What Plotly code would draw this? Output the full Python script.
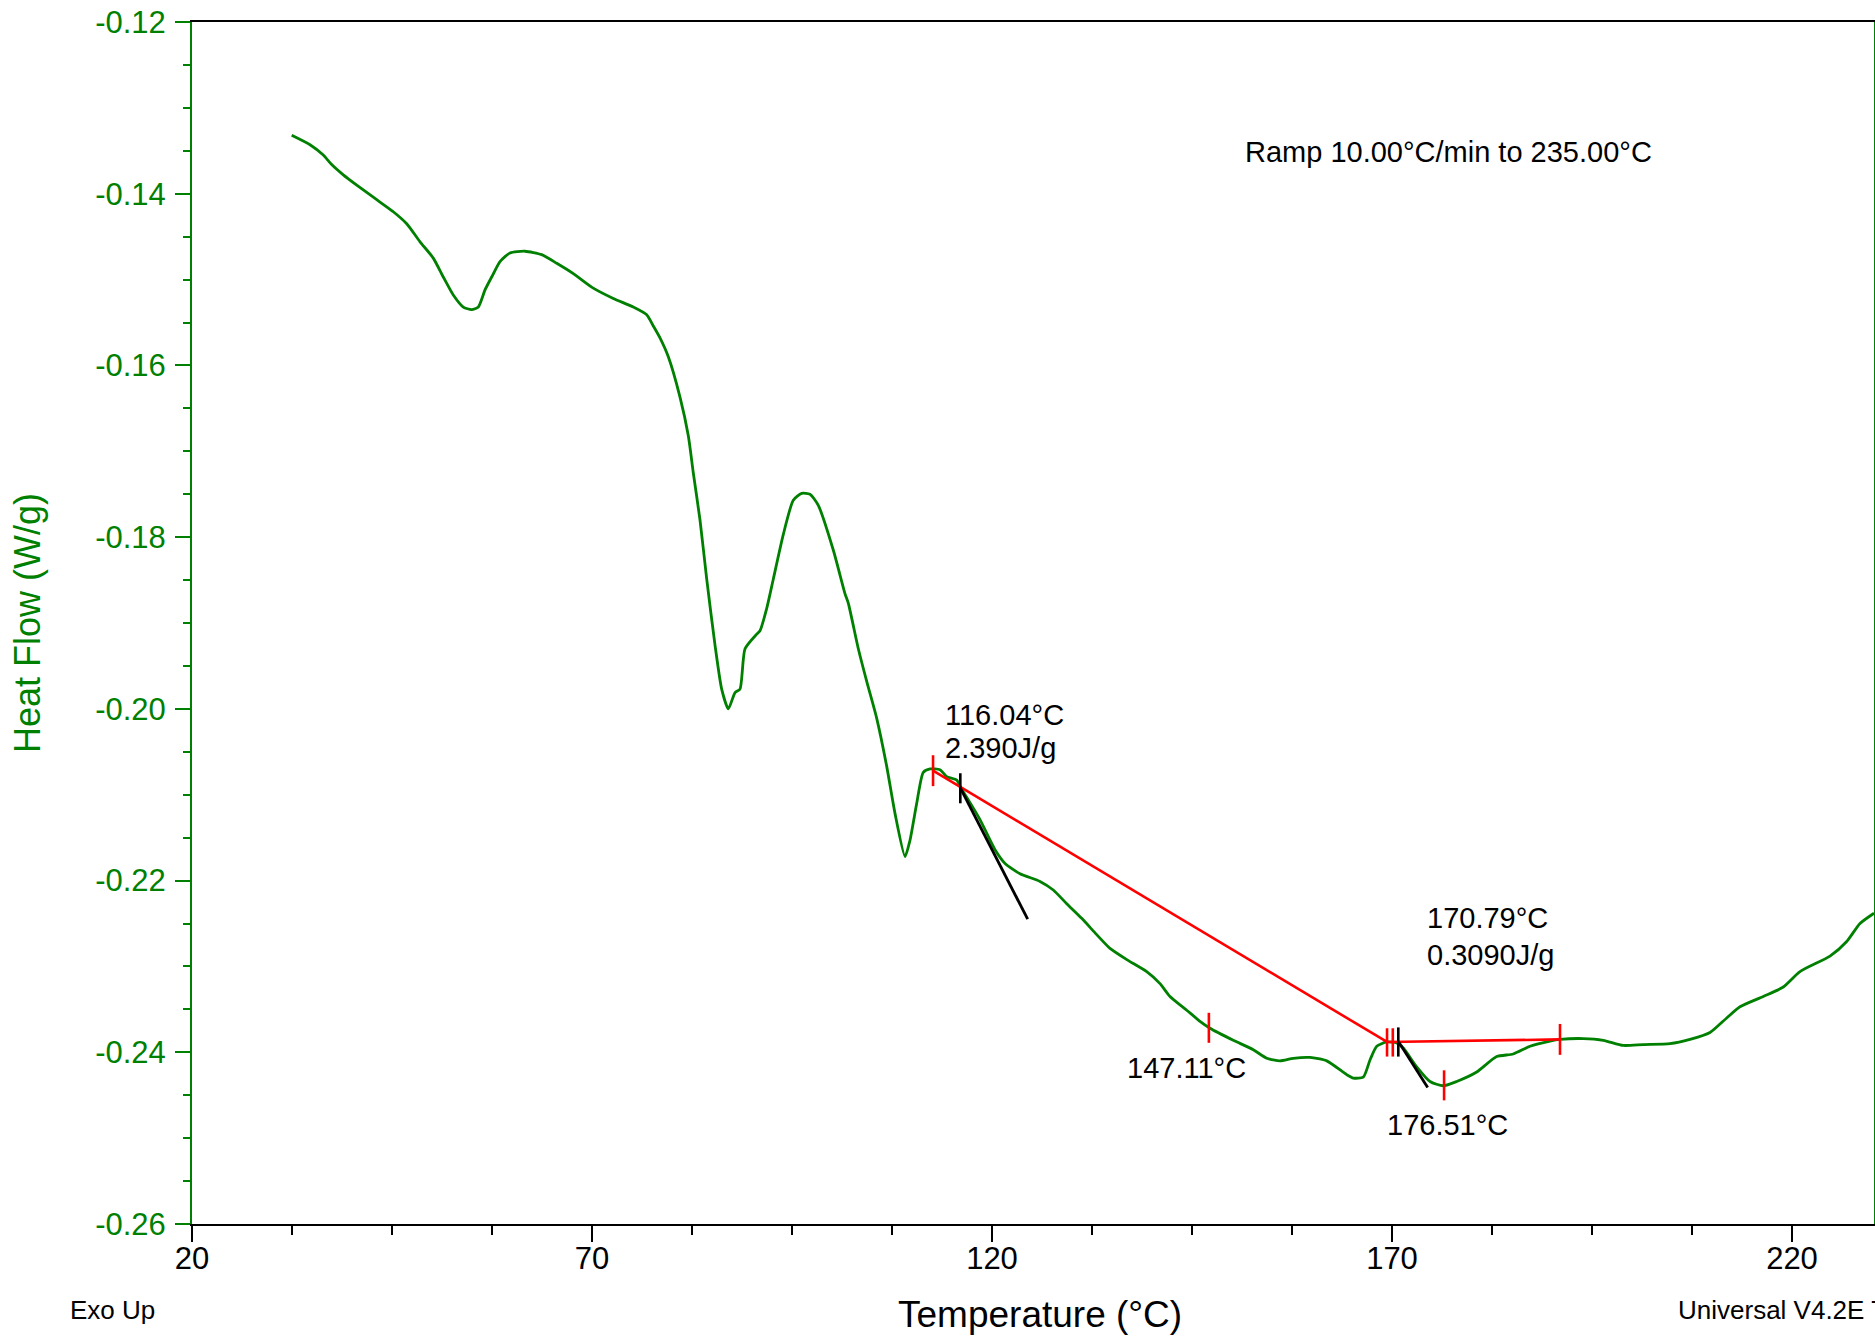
import plotly.graph_objects as go

# ---- DSC curve (Temperature °C, Heat Flow W/g) ----
temp = [32.46, 34.75, 36.41, 37.46, 38.91, 40.59, 43.09, 45.16, 46.84, 48.5,
        50.16, 51.41, 52.66, 53.91, 54.96, 55.79, 56.63, 57.46, 58.5, 59.75,
        61.63, 63.71, 65.59, 67.66, 70.16, 72.66, 75.16, 76.84, 77.66, 78.5,
        79.54, 81.0, 82.04, 82.66, 83.5, 84.34, 85.38, 86.21, 87.04, 87.88,
        88.5, 89.13, 90.59, 91.0, 91.84, 92.66, 93.91, 95.16, 96.21, 97.25,
        98.29, 100.16, 101.63, 102.04, 103.29, 104.34, 105.59, 106.84, 107.88, 109.13,
        109.75, 110.59, 111.41, 112.25, 113.5, 114.34, 115.59, 116.21, 117.04, 118.5,
        120.38, 121.63, 123.5, 126.0, 127.66, 129.34, 131.21, 133.09, 134.75, 136.84,
        139.34, 141.0, 142.25, 144.34, 146.0, 147.25, 150.16, 152.66, 154.34, 156.0,
        157.66, 159.75, 161.84, 164.34, 165.16, 166.41, 167.25, 168.09, 169.34, 170.59,
        171.41, 173.09, 174.75, 176.41, 178.09, 180.59, 183.09, 185.16, 187.25, 189.75,
        191.0, 193.91, 196.41, 198.91, 201.41, 204.75, 207.25, 209.75, 211.84, 213.5,
        216.41, 218.91, 221.0, 224.75, 226.84, 228.5, 230.25]
heat_flow = [-0.1332, -0.1343, -0.1355, -0.1366, -0.1378, -0.1390, -0.1407, -0.1421, -0.1435, -0.1456,
             -0.1475, -0.1497, -0.1518, -0.1532, -0.1535, -0.1532, -0.1512, -0.1497, -0.1479, -0.1469,
             -0.1467, -0.1471, -0.1481, -0.1493, -0.1510, -0.1522, -0.1532, -0.1541, -0.1554, -0.1568,
             -0.1590, -0.1637, -0.1682, -0.1725, -0.1780, -0.1849, -0.1926, -0.1977, -0.2000, -0.1981,
             -0.1977, -0.1930, -0.1913, -0.1909, -0.1883, -0.1849, -0.1797, -0.1757, -0.1749, -0.1750,
             -0.1763, -0.1815, -0.1866, -0.1877, -0.1930, -0.1968, -0.2011, -0.2067, -0.2122, -0.2172,
             -0.2153, -0.2110, -0.2074, -0.2070, -0.2071, -0.2079, -0.2083, -0.2094, -0.2106, -0.2129,
             -0.2164, -0.2180, -0.2192, -0.2201, -0.2211, -0.2227, -0.2244, -0.2263, -0.2279, -0.2292,
             -0.2306, -0.2320, -0.2335, -0.2351, -0.2364, -0.2372, -0.2386, -0.2397, -0.2407, -0.2410,
             -0.2407, -0.2406, -0.2410, -0.2426, -0.2430, -0.2429, -0.2409, -0.2393, -0.2388, -0.2389,
             -0.2395, -0.2417, -0.2434, -0.2439, -0.2434, -0.2423, -0.2405, -0.2402, -0.2393, -0.2387,
             -0.2385, -0.2384, -0.2386, -0.2392, -0.2391, -0.2390, -0.2385, -0.2377, -0.2360, -0.2347,
             -0.2335, -0.2324, -0.2306, -0.2288, -0.2271, -0.2250, -0.2238]

# ---- analysis construction lines ----
baseline1_T = [112.63, 169.38]
baseline1_v = [-0.2072, -0.2388]
baseline2_T = [169.38, 191.0]
baseline2_v = [-0.2388, -0.2385]

red_tick_T = [112.63, 147.11, 169.38, 170.1, 176.51, 191.0]
red_tick_lo = [-0.2090, -0.2389, -0.2405, -0.2405, -0.2456, -0.2403]
red_tick_hi = [-0.2054, -0.2354, -0.2372, -0.2372, -0.2421, -0.2367]

black_tick_T = [116.04, 170.79]
black_tick_lo = [-0.2110, -0.2405]
black_tick_hi = [-0.2075, -0.2371]

tangent1_T = [116.04, 124.46]
tangent1_v = [-0.2092, -0.2245]
tangent2_T = [170.9, 174.46]
tangent2_v = [-0.2389, -0.2441]

# ---- axis ticks ----
x_tick_vals = [20, 70, 120, 170, 220]
x_tick_text = ["20", "70", "120", "170", "220"]
y_tick_vals = [-0.26, -0.24, -0.22, -0.20, -0.18, -0.16, -0.14, -0.12]
y_tick_text = ["-0.26", "-0.24", "-0.22", "-0.20", "-0.18", "-0.16", "-0.14", "-0.12"]

GREEN = "#008000"
RED = "#FF0000"
FONT = "Liberation Sans, Arial, sans-serif"


def tick_segments(ts, lo, hi):
    xs, ys = [], []
    for t, a, b in zip(ts, lo, hi):
        xs += [t, t, None]
        ys += [a, b, None]
    return xs, ys


fig = go.Figure()
fig.add_trace(go.Scatter(x=temp, y=heat_flow, mode="lines",
                         line=dict(color=GREEN, width=2.8, shape="spline", smoothing=0.6),
                         showlegend=False))
fig.add_trace(go.Scatter(x=baseline1_T, y=baseline1_v, mode="lines",
                         line=dict(color=RED, width=2.6), showlegend=False))
fig.add_trace(go.Scatter(x=baseline2_T, y=baseline2_v, mode="lines",
                         line=dict(color=RED, width=2.6), showlegend=False))
rx, ry = tick_segments(red_tick_T, red_tick_lo, red_tick_hi)
fig.add_trace(go.Scatter(x=rx, y=ry, mode="lines",
                         line=dict(color=RED, width=2.6), showlegend=False))
fig.add_trace(go.Scatter(x=tangent1_T, y=tangent1_v, mode="lines",
                         line=dict(color="black", width=2.8), showlegend=False))
fig.add_trace(go.Scatter(x=tangent2_T, y=tangent2_v, mode="lines",
                         line=dict(color="black", width=2.8), showlegend=False))
bx, by = tick_segments(black_tick_T, black_tick_lo, black_tick_hi)
fig.add_trace(go.Scatter(x=bx, y=by, mode="lines",
                         line=dict(color="black", width=2.6), showlegend=False))

annotations = [
    dict(x=177.0, y=-0.1351, text="Ramp 10.00°C/min to 235.00°C", xanchor="center"),
    dict(x=113.9, y=-0.2007, text="116.04°C", xanchor="left"),
    dict(x=113.9, y=-0.2046, text="2.390J/g", xanchor="left"),
    dict(x=174.1, y=-0.2244, text="170.79°C", xanchor="left"),
    dict(x=174.1, y=-0.2287, text="0.3090J/g", xanchor="left"),
    dict(x=144.25, y=-0.2418, text="147.11°C", xanchor="center"),
    dict(x=176.9, y=-0.2485, text="176.51°C", xanchor="center"),
]
ann_list = []
for a in annotations:
    ann_list.append(dict(x=a["x"], y=a["y"], xref="x", yref="y", text=a["text"],
                         xanchor=a["xanchor"], yanchor="middle", showarrow=False,
                         font=dict(family=FONT, size=29, color="black")))

ann_list += [
    dict(x=-0.0981, y=0.5, xref="paper", yref="paper", text="Heat Flow (W/g)",
         textangle=-90, showarrow=False, xanchor="center", yanchor="middle",
         font=dict(family=FONT, size=36, color=GREEN)),
    dict(x=0.504, y=-0.0757, xref="paper", yref="paper", text="Temperature (°C)",
         showarrow=False, xanchor="center", yanchor="middle",
         font=dict(family=FONT, size=37, color="black")),
    dict(x=-0.047, y=-0.0715, xref="paper", yref="paper", text="Exo Up",
         showarrow=False, xanchor="center", yanchor="middle",
         font=dict(family=FONT, size=26, color="black")),
    dict(x=0.8823, y=-0.0715, xref="paper", yref="paper",
         text="Universal V4.2E TA Instruments",
         showarrow=False, xanchor="left", yanchor="middle",
         font=dict(family=FONT, size=26, color="black")),
]

fig.update_layout(
    template="none",
    width=1875, height=1339,
    margin=dict(l=192, r=1, t=22, b=115, pad=0),
    paper_bgcolor="white", plot_bgcolor="white",
    showlegend=False,
    annotations=ann_list,
    xaxis=dict(
        range=[20, 230.25], tickmode="array", tickvals=x_tick_vals, ticktext=x_tick_text,
        showgrid=False, zeroline=False,
        showline=True, linecolor="black", linewidth=2, mirror=True,
        ticks="outside", ticklen=16, tickwidth=2, tickcolor="black",
        ticklabelstandoff=-10,
        tickfont=dict(family=FONT, size=31, color="black"),
        minor=dict(tickmode="linear", tick0=20, dtick=12.5, ticks="outside",
                   ticklen=9, tickwidth=2, tickcolor="black", showgrid=False),
    ),
    yaxis=dict(
        range=[-0.26, -0.12], tickmode="array", tickvals=y_tick_vals, ticktext=y_tick_text,
        showgrid=False, zeroline=False,
        showline=True, linecolor=GREEN, linewidth=2, mirror=True,
        ticks="outside", ticklen=15, tickwidth=2, tickcolor=GREEN,
        ticklabelstandoff=3,
        tickfont=dict(family=FONT, size=31, color=GREEN),
        minor=dict(tickmode="linear", tick0=-0.26, dtick=0.005, ticks="outside",
                   ticklen=7, tickwidth=2, tickcolor=GREEN, showgrid=False),
    ),
)

fig.write_html(
    "out.html",
    config={"displayModeBar": False},
    post_script=("document.body.style.margin='0';"
                 "document.documentElement.style.overflow='hidden';"
                 "document.body.style.overflow='hidden';"),
)
